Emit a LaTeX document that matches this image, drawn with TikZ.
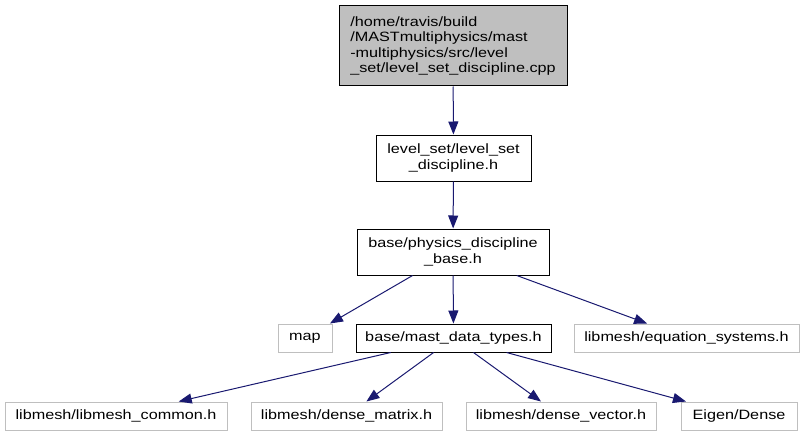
\documentclass[tikz,border=0pt]{standalone}
\usepackage{fontspec}
\setmainfont{Liberation Sans}[FakeStretch=1.2]
\usetikzlibrary{arrows.meta, positioning}
\tikzset{>={Triangle[length=13pt,width=10pt]}}
\definecolor{edgeblue}{HTML}{191970}
\definecolor{boxgray}{HTML}{BFBFBF}

\begin{document}
\begin{tikzpicture}[x=1pt,y=-1pt,line width=1pt,
    every node/.style={inner sep=0pt,font=\fontsize{13.5}{15.5}\selectfont,align=center},
    file/.style={draw=black,minimum height=46pt},
    sysfile/.style={draw=boxgray,minimum height=28pt},
    mainfile/.style={draw=black,fill=boxgray,minimum height=80pt,align=left}]
    \useasboundingbox (0,0) rectangle (804,436);
    \node[mainfile,minimum width=228pt] (src) at (453,46) {/home/travis/build\\/MASTmultiphysics/mast\\-multiphysics/src/level\\\_set/level\_set\_discipline.cpp};
    \node[file,minimum width=155pt] (lsd) at (453.5,158) {level\_set/level\_set\\\_discipline.h};
    \node[file,minimum width=192pt] (pdb) at (453,252) {base/physics\_discipline\\\_base.h};
    \node[sysfile,minimum width=54pt] (map) at (305,338) {map};
    \node[file,minimum width=195pt,minimum height=28pt] (mdt) at (453.5,338) {base/mast\_data\_types.h};
    \node[sysfile,minimum width=225pt] (eqs) at (686.5,338) {libmesh/equation\_systems.h};
    \node[sysfile,minimum width=222pt] (lmc) at (116,416) {libmesh/libmesh\_common.h};
    \node[sysfile,minimum width=191pt] (dmat) at (346.5,416) {libmesh/dense\_matrix.h};
    \node[sysfile,minimum width=190pt] (dvec) at (561,416) {libmesh/dense\_vector.h};
    \node[sysfile,minimum width=116pt] (eig) at (739,416) {Eigen/Dense};
    % include edges
    \path[->,draw=edgeblue,fill=edgeblue]
        (src) edge (lsd)
        (lsd) edge (pdb)
        (pdb) edge (map)
              edge (mdt)
              edge (eqs)
        (mdt) edge (lmc)
              edge (dmat)
              edge (dvec)
              edge (eig)
    ;
\end{tikzpicture}
\end{document}
